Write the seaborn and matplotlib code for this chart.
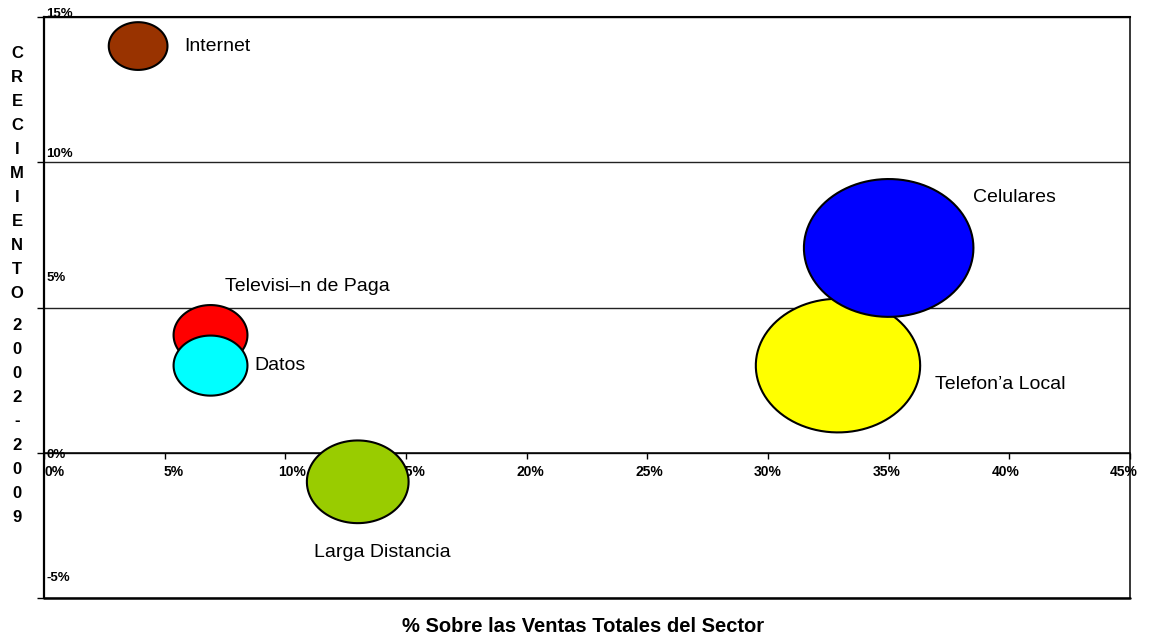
import numpy as np
import pandas as pd
import matplotlib
matplotlib.use("Agg")
import matplotlib.pyplot as plt
from matplotlib.path import Path
from matplotlib.transforms import ScaledTranslation
import seaborn as sns

# datos del grafico
sectores = ["Internet", "Televisi–n de Paga", "Datos", "Larga Distancia",
            "Telefon’a Local", "Celulares"]
ventas = [3.9, 6.9, 6.9, 13.0, 32.9, 35.0]          # % sobre ventas totales
crecimiento = [14.0, 4.05, 3.0, -1.0, 3.0, 7.05]   # crecimiento 2002-2009 (%)
tamano = [12, 19, 19, 36, 94, 100]                 # tamano relativo de burbuja
colores = ["#993300", "#FF0000", "#00FFFF", "#99CC00", "#FFFF00", "#0000FF"]

xticks = [0, 5, 10, 15, 20, 25, 30, 35, 40, 45]
yticks = [-5, 0, 5, 10, 15]
xtick_labels = ["0%", "5%", "10%", "15%", "20%", "25%", "30%", "35%", "40%", "45%"]
ytick_labels = ["-5%", "0%", "5%", "10%", "15%"]

df = pd.DataFrame({"sector": sectores, "ventas": ventas,
                   "crecimiento": crecimiento, "tamano": tamano})

sns.set_style("white")
plt.rcParams["font.family"] = ["Liberation Sans", "DejaVu Sans"]
plt.rcParams["text.color"] = "black"
plt.rcParams["xtick.color"] = "black"
plt.rcParams["ytick.color"] = "black"

fig = plt.figure(figsize=(11.49, 6.39), dpi=100)
ax = fig.add_axes([44 / 1149, 1 - 598 / 639, 1086 / 1149, 581 / 639])

# marcador eliptico (las burbujas de Excel salen achatadas)
t = np.linspace(0, 2 * np.pi, 100)
elipse = Path(np.column_stack([1.23 * np.cos(t), np.sin(t)]), closed=True)

sns.scatterplot(data=df, x="ventas", y="crecimiento", hue="sector",
                palette=dict(zip(sectores, colores)), size="tamano",
                sizes=(0, 14900), size_norm=(0, 100), marker=elipse,
                edgecolor="black", linewidth=1.5, legend=False, zorder=5, ax=ax)

# etiquetas de cada burbuja
lab_dx = [1.9, 0.6, 1.8, -1.8, 4.0, 3.5]
lab_dy = [0.0, 1.67, 0.0, -2.45, -0.66, 1.75]
for i, s in enumerate(sectores):
    ax.text(ventas[i] + lab_dx[i], crecimiento[i] + lab_dy[i], s, fontsize=14,
            ha="left", va="center", zorder=6)

ax.set_xlim(0, 45)
ax.set_ylim(-5, 15)
ax.set_xlabel("")
ax.set_ylabel("")

ax.yaxis.grid(True, color="#222222", linewidth=1.0)
ax.set_axisbelow(True)

ax.spines["bottom"].set_position(("data", 0))
ax.spines["bottom"].set_linewidth(1.1)
ax.spines["left"].set_linewidth(1.6)
ax.spines["top"].set_linewidth(1.5)
ax.spines["right"].set_linewidth(1.1)
for sp in ax.spines.values():
    sp.set_color("black")
    sp.set_zorder(1)
ax.axhline(-5, color="black", linewidth=1.8, zorder=1, clip_on=False)

ax.tick_params(axis="x", direction="out", length=4, width=1, pad=5, bottom=True)
ax.tick_params(axis="y", direction="out", length=5, width=1, left=True)

ax.set_xticks(xticks)
ax.set_xticklabels(xtick_labels)
ax.set_yticks(yticks)
ax.set_yticklabels([])

# Excel corre un poco las etiquetas del eje x
for i, lab in enumerate(ax.get_xticklabels()):
    lab.set_fontsize(10)
    lab.set_fontweight("bold")
    dx = (11 - i * 17 / 9) / 100
    lab.set_transform(lab.get_transform() + ScaledTranslation(dx, 0, fig.dpi_scale_trans))

# etiquetas del eje y dentro del grafico
ylab_dy = [0.69, -0.07, 1.03, 0.28, 0.12]
for v, txt, d in zip(yticks, ytick_labels, ylab_dy):
    ax.text(0.002, v + d, txt, transform=ax.get_yaxis_transform(), fontsize=9.5,
            fontweight="bold", ha="left", va="center", clip_on=False, zorder=2)

# titulos de los ejes
fig.text(17 / 1149, 1 - 173 / 639, "\n".join("CRECIMIENTO"), fontsize=12,
         fontweight="bold", ha="center", va="center", linespacing=1.75)
fig.text(17 / 1149, 1 - 421 / 639, "\n".join("2002-2009"), fontsize=12,
         fontweight="bold", ha="center", va="center", linespacing=1.75)
fig.text(583 / 1149, 1 - 627 / 639, "% Sobre las Ventas Totales del Sector",
         fontsize=14.5, fontweight="bold", ha="center", va="center")

fig.savefig("out.png", dpi=100)
